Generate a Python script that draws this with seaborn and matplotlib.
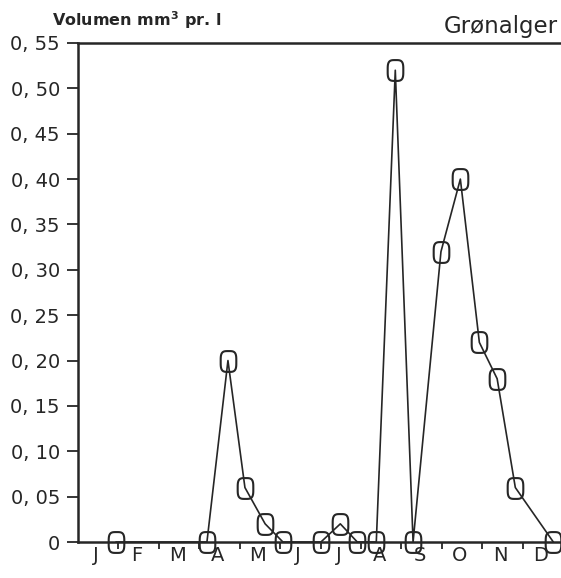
import numpy as np
import pandas as pd
import matplotlib
matplotlib.use("Agg")
import matplotlib.pyplot as plt
from matplotlib.path import Path
import seaborn as sns

# ---- data ----
months = ["J", "F", "M", "A", "M", "J", "J", "A", "S", "O", "N", "D"]
time_month = [0.94, 3.19, 3.71, 4.13, 4.63, 5.07, 6.01, 6.49, 6.91, 7.38,
              7.85, 8.29, 8.98, 9.46, 9.93, 10.37, 10.82, 11.76]
volume = [0, 0, 0.20, 0.06, 0.02, 0, 0, 0.02, 0, 0,
          0.52, 0, 0.32, 0.40, 0.22, 0.18, 0.06, 0]
yticks = [0, 0.05, 0.10, 0.15, 0.20, 0.25, 0.30, 0.35, 0.40, 0.45, 0.50, 0.55]
ytick_labels = ["0", "0, 05", "0, 10", "0, 15", "0, 20", "0, 25", "0, 30",
                "0, 35", "0, 40", "0, 45", "0, 50", "0, 55"]
ylabel_text = "Volumen mm$^\\mathbf{3}$ pr. l"
title_text = "Grønalger"

df = pd.DataFrame({"t": time_month, "v": volume})

sns.set_theme(style="white")
plt.rcParams["font.family"] = ["DejaVu Sans"]

ink = "#262626"

# rounded "O" marker (plotter style), taller than wide
tt = np.linspace(0, 2 * np.pi, 80)
ex = 0.75 * np.sign(np.cos(tt)) * np.abs(np.cos(tt)) ** 0.55
ey = 1.0 * np.sign(np.sin(tt)) * np.abs(np.sin(tt)) ** 0.55
verts = np.column_stack([ex, ey])
verts = np.vstack([verts, verts[:1]])
codes = [Path.MOVETO] + [Path.LINETO] * (len(verts) - 2) + [Path.CLOSEPOLY]
omarker = Path(verts, codes)

fig = plt.figure(figsize=(5.61, 5.78), dpi=100)
ax = fig.add_axes([78 / 561, 36 / 578, (561 - 78) / 561, (542 - 43) / 578])

sns.lineplot(data=df, x="t", y="v", sort=False, ax=ax, color=ink,
             linewidth=1.2, marker=omarker, markersize=15,
             markerfacecolor="none", markeredgecolor=ink,
             markeredgewidth=1.5, clip_on=False, zorder=3)

ax.set_xlim(0, 11.95)
ax.set_ylim(0, 0.55)

ax.set_yticks(yticks)
ax.set_yticklabels(ytick_labels, fontsize=14, color=ink)
ax.set_xticks(np.arange(1, 12))
ax.set_xticklabels([])
ax.set_xticks(np.arange(12) + 0.45, minor=True)
ax.set_xticklabels(months, minor=True, fontsize=14, color=ink)
ax.tick_params(axis="x", which="major", direction="out", length=5,
               width=1.3, color=ink, bottom=True)
ax.tick_params(axis="x", which="minor", length=0, pad=3, bottom=True)
ax.tick_params(axis="y", direction="out", length=8, width=1.3, color=ink,
               pad=5, left=True)

ax.set_xlabel("")
ax.set_ylabel("")

for s in ["left", "bottom", "top"]:
    ax.spines[s].set_visible(True)
    ax.spines[s].set_color(ink)
    ax.spines[s].set_linewidth(1.8)
ax.spines["right"].set_visible(False)
ax.grid(False)

fig.text(52 / 561, 1 - 26 / 578, ylabel_text, fontsize=11.5, color=ink,
         ha="left", va="baseline", fontweight="bold")
fig.text(558 / 561, 1 - 33 / 578, title_text, fontsize=16.5, color=ink,
         ha="right", va="baseline")

fig.savefig("out.png", dpi=100, facecolor="white")
